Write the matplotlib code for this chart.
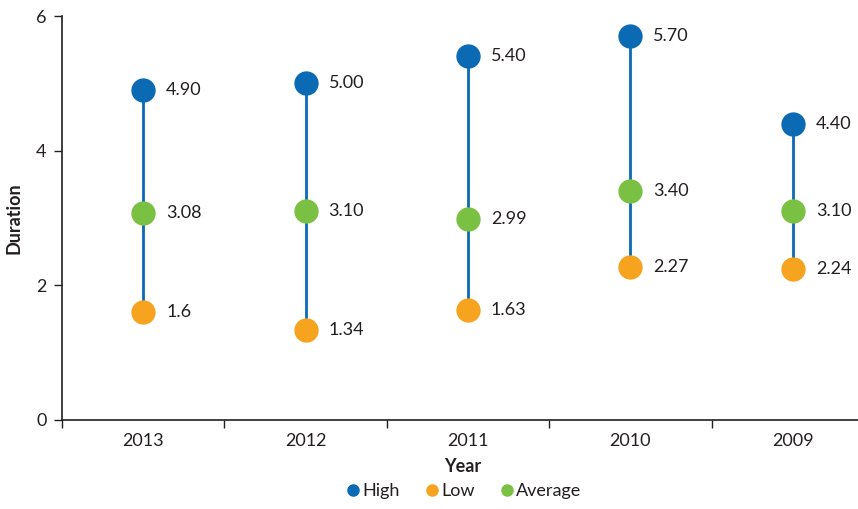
import matplotlib
matplotlib.use("Agg")
import matplotlib.pyplot as plt
from matplotlib.lines import Line2D

years = ["2013", "2012", "2011", "2010", "2009"]
high = [4.90, 5.00, 5.40, 5.70, 4.40]
low = [1.6, 1.34, 1.63, 2.27, 2.24]
average = [3.08, 3.10, 2.99, 3.40, 3.10]
high_labels = ["4.90", "5.00", "5.40", "5.70", "4.40"]
low_labels = ["1.6", "1.34", "1.63", "2.27", "2.24"]
avg_labels = ["3.08", "3.10", "2.99", "3.40", "3.10"]
yticks = [0, 2, 4, 6]

BLUE = "#0a6ab4"
ORANGE = "#f6a31f"
GREEN = "#7ac143"
TXT = '#231f20'
plt.rcParams['font.family'] = ['Lato', 'DejaVu Sans']
FS = 13

fig = plt.figure(figsize=(8.58, 5.09), dpi=100)
ax = fig.add_axes([62/858, 89/509, 812/858, 404/509])

x = list(range(len(years)))
for i in x:
    ax.plot([i, i], [low[i], high[i]], color=BLUE, lw=2, zorder=1, solid_capstyle='butt')
ms = 16.5
ax.plot(x, high, 'o', color=BLUE, ms=ms, zorder=3, linestyle='none')
ax.plot(x, low, 'o', color=ORANGE, ms=ms, zorder=3, linestyle='none')
ax.plot(x, average, 'o', color=GREEN, ms=ms, zorder=3, linestyle='none')

for i in x:
    for v, lab in ((high[i], high_labels[i]), (low[i], low_labels[i]), (average[i], avg_labels[i])):
        ax.annotate(lab, (i, v), xytext=(23, 0), textcoords='offset pixels',
                    va='center', ha='left', fontsize=FS, color=TXT)

ax.set_xlim(-0.5, len(years) - 0.5)
ax.set_ylim(0, 6)
ax.set_yticks(yticks)
ax.set_yticklabels([str(t) for t in yticks], fontsize=FS, color=TXT)
ax.set_xticks([i + 0.5 for i in range(-1, len(years) - 1)])
ax.set_xticklabels([])
ax.set_xticks(x, minor=True)
ax.set_xticklabels(years, minor=True, fontsize=FS, color=TXT)
ax.tick_params(axis='x', which='minor', length=0, pad=9)
ax.tick_params(axis='x', which='major', length=6, width=1, color=TXT)
ax.tick_params(axis='y', length=6, width=1, color=TXT, pad=5)

for s in ('top', 'right'):
    ax.spines[s].set_visible(False)
for s in ('left', 'bottom'):
    ax.spines[s].set_color(TXT)
    ax.spines[s].set_linewidth(1.2)

fig.text(14/858, 1 - 218/509, "Duration", rotation=90, ha='center', va='center',
         fontsize=FS, fontweight='bold', color=TXT)
fig.text(463/858, 1 - 467/509, "Year", ha='center', va='center',
         fontsize=FS, fontweight='bold', color=TXT)

handles = [Line2D([], [], marker='o', color=c, ls='none', ms=8) for c in (BLUE, ORANGE, GREEN)]
fig.legend(handles, ["High", "Low", "Average"], loc='center', bbox_to_anchor=(463/858, 1 - 491/509),
           ncol=3, frameon=False, fontsize=FS, handletextpad=0.0, columnspacing=1.3,
           handlelength=1.0, labelcolor=TXT)

fig.savefig("out.png", dpi=100)
